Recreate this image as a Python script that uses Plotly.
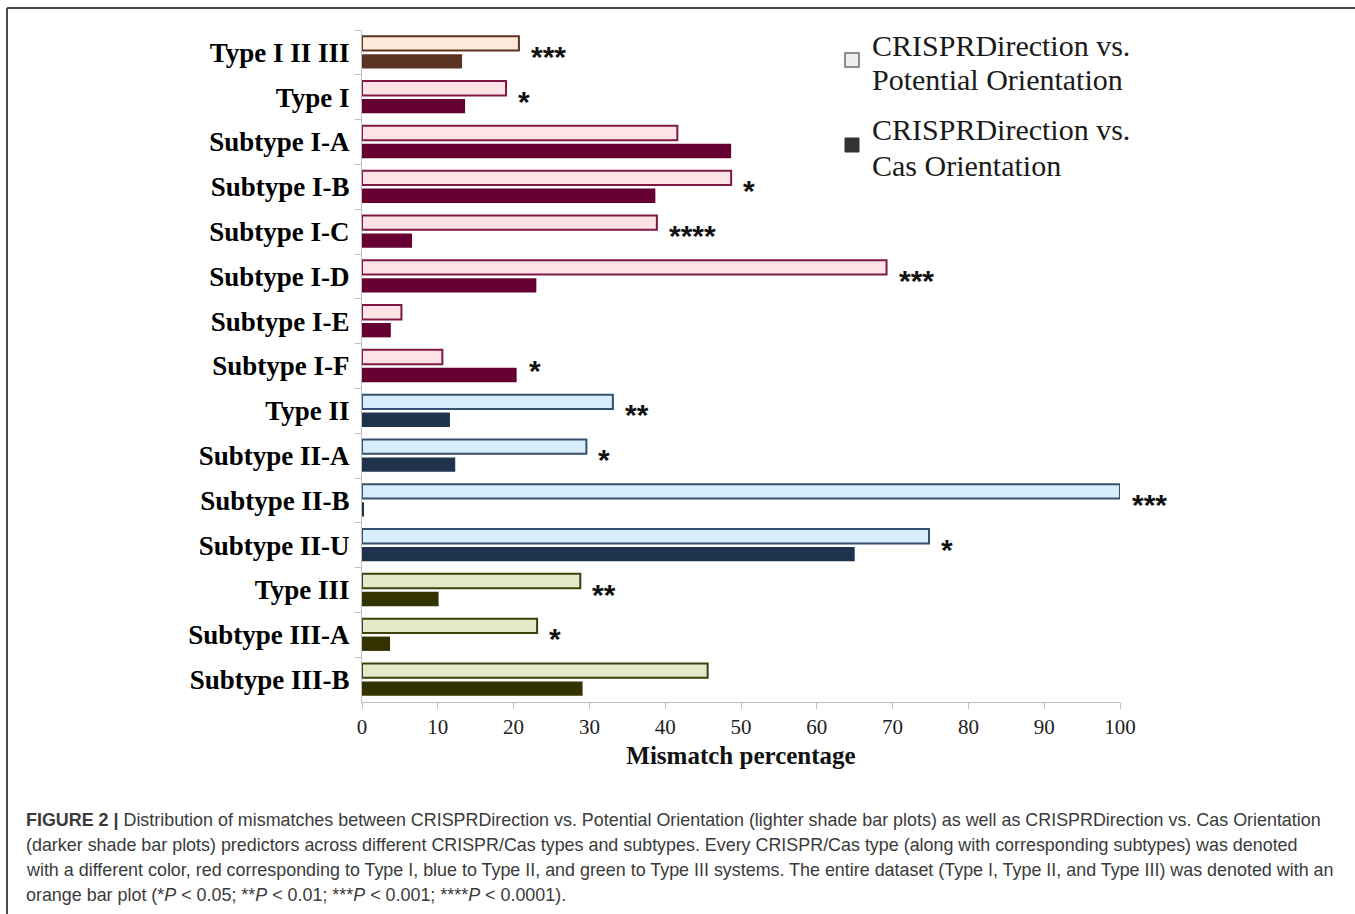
import plotly.graph_objects as go

# Categories, top to bottom
categories = [
    "Type I II III", "Type I", "Subtype I-A", "Subtype I-B", "Subtype I-C",
    "Subtype I-D", "Subtype I-E", "Subtype I-F", "Type II", "Subtype II-A",
    "Subtype II-B", "Subtype II-U", "Type III", "Subtype III-A", "Subtype III-B",
]
# CRISPRDirection vs. Potential Orientation (lighter bars), mismatch %
potential = [20.7, 19.0, 41.6, 48.7, 38.9, 69.2, 5.2, 10.6, 33.1, 29.6,
             100.0, 74.8, 28.8, 23.1, 45.6]
# CRISPRDirection vs. Cas Orientation (darker bars), mismatch %
cas = [13.2, 13.6, 48.7, 38.7, 6.6, 23.0, 3.8, 20.4, 11.6, 12.3,
       0.2, 65.0, 10.1, 3.7, 29.1]
# Significance marks
stars = ["***", "*", "", "*", "****", "***", "", "*", "**", "*",
         "***", "*", "**", "*", ""]
# CRISPR/Cas system each row belongs to
system = ["all", "I", "I", "I", "I", "I", "I", "I", "II", "II",
          "II", "II", "III", "III", "III"]

palette = {
    "all": dict(light="#FDEADA", edge="#5E3421", dark="#5C3222"),
    "I":   dict(light="#FDE2E6", edge="#7F1845", dark="#660033"),
    "II":  dict(light="#D7EDFB", edge="#34506F", dark="#1F334F"),
    "III": dict(light="#E2EAC9", edge="#3F3F08", dark="#333300"),
}

W, H = 1355, 914
L, R, T, B = 362, 235, 30, 212
PW, PH = W - L - R, H - T - B


def px(x):
    return (x - L) / PW


def py(y):
    return (H - B - y) / PH


fig = go.Figure()
fig.add_trace(go.Bar(
    y=categories, x=potential, orientation="h",
    name="CRISPRDirection vs. Potential Orientation",
    marker=dict(color=[palette[s]["light"] for s in system],
                line=dict(color=[palette[s]["edge"] for s in system], width=2)),
    showlegend=False,
))
fig.add_trace(go.Bar(
    y=categories, x=cas, orientation="h",
    name="CRISPRDirection vs. Cas Orientation",
    marker=dict(color=[palette[s]["dark"] for s in system], line=dict(width=0)),
    showlegend=False,
))

annotations = []
for cat, a, b, s in zip(categories, potential, cas, stars):
    if s:
        annotations.append(dict(
            x=max(a, b), y=cat, xref="x", yref="y", text="<b>" + s + "</b>",
            showarrow=False, xanchor="left", yanchor="middle", xshift=10, yshift=-4,
            font=dict(family="Liberation Sans", size=30, color="#111111"),
        ))

# Legend block, one annotation per text line
legend_font = dict(family="Liberation Serif", size=30, color="#1a1a1a")
for text, yy in [("CRISPRDirection vs.", 45), ("Potential Orientation", 80),
                 ("CRISPRDirection vs.", 129), ("Cas Orientation", 166)]:
    annotations.append(dict(
        x=px(870), y=py(yy), xref="paper", yref="paper", showarrow=False,
        xanchor="left", yanchor="middle", align="left", text=text, font=legend_font,
    ))

# Caption
caption_lines = [
    "<b>FIGURE 2 |</b> Distribution of mismatches between CRISPRDirection vs. Potential Orientation "
    "(lighter shade bar plots) as well as CRISPRDirection vs. Cas Orientation",
    "(darker shade bar plots) predictors across different CRISPR/Cas types and subtypes. "
    "Every CRISPR/Cas type (along with corresponding subtypes) was denoted",
    "with a different color, red corresponding to Type I, blue to Type II, and green to Type III "
    "systems. The entire dataset (Type I, Type II, and Type III) was denoted with an",
    "orange bar plot (*<i>P</i> &lt; 0.05; **<i>P</i> &lt; 0.01; ***<i>P</i> &lt; 0.001; "
    "****<i>P</i> &lt; 0.0001).",
]
for i, line in enumerate(caption_lines):
    annotations.append(dict(
        x=px(24), y=py(820 + 25 * i), xref="paper", yref="paper", showarrow=False,
        xanchor="left", yanchor="middle", align="left", text=line,
        font=dict(family="Liberation Sans", size=17.9, color="#3a3a3a"),
    ))

shapes = [
    # legend swatches
    dict(type="rect", xref="paper", yref="paper", x0=px(845), x1=px(859),
         y0=py(67), y1=py(53), fillcolor="#EEEEEE", line=dict(color="#6b6b6b", width=1.5)),
    dict(type="rect", xref="paper", yref="paper", x0=px(845), x1=px(859),
         y0=py(152), y1=py(138), fillcolor="#333333", line=dict(color="#333333", width=1)),
    # figure frame (top and left edges)
    dict(type="line", xref="paper", yref="paper", x0=px(7), x1=px(1355),
         y0=py(8), y1=py(8), line=dict(color="#4a4a4a", width=2)),
    dict(type="line", xref="paper", yref="paper", x0=px(7), x1=px(7),
         y0=py(8), y1=py(914), line=dict(color="#4a4a4a", width=2)),
]

fig.update_layout(
    width=W, height=H,
    margin=dict(l=L, r=R, t=T, b=B, autoexpand=False),
    paper_bgcolor="white", plot_bgcolor="white",
    barmode="group", bargap=0.2, bargroupgap=0.2,
    annotations=annotations, shapes=shapes,
    xaxis=dict(
        range=[0, 100], autorange=False, dtick=10, showgrid=False, zeroline=False,
        showline=True, linecolor="#BFBFBF", linewidth=1,
        ticks="outside", ticklen=6, tickcolor="#BFBFBF",
        tickfont=dict(family="Liberation Serif", size=21, color="#222222"),
        title=dict(text="<b>Mismatch percentage</b>", standoff=8,
                   font=dict(family="Liberation Serif", size=25, color="#111111")),
    ),
    yaxis=dict(
        categoryorder="array", categoryarray=categories,
        range=[len(categories) - 0.5, -0.5], autorange=False,
        showgrid=False, zeroline=False, showline=True, linecolor="#BFBFBF", linewidth=1,
        ticks="outside", ticklen=6, tickcolor="#BFBFBF", tickson="boundaries",
        ticklabelstandoff=6,
        tickfont=dict(family="Liberation Serif", size=27, color="#000000", weight="bold"),
    ),
)

fig.write_html("out.html")
